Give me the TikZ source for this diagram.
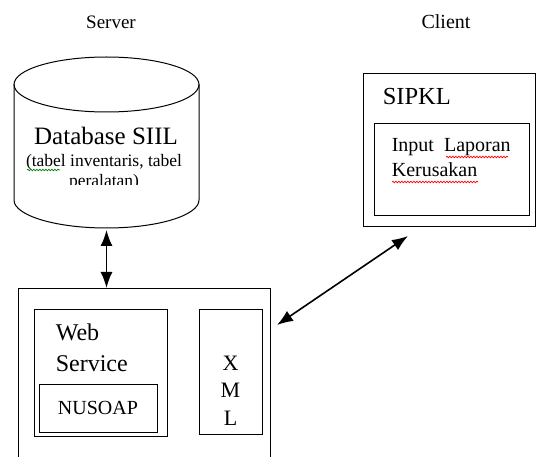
\documentclass[tikz,border=0pt]{standalone}
\usepackage{fontspec}
\setmainfont{Liberation Serif}
\usetikzlibrary{arrows.meta,decorations.pathmorphing}

\begin{document}
\begin{tikzpicture}[x=1pt,y=-1pt,line width=1pt,
  box/.style={draw,rectangle,inner sep=0pt},
  link/.style={line width=1.6pt,{Latex[length=16pt,width=12pt]}-{Latex[length=16pt,width=12pt]}},
  typo/.style={line width=0.7pt,decorate,decoration={snake,amplitude=0.8pt,segment length=3pt}}]
  \useasboundingbox (0,0) rectangle (536,457);
  % server side
  \node (srvlabel) at (111,22) {\fontsize{19}{22}\selectfont Server};
  \draw (106.5,84.5) ellipse [x radius=92.5,y radius=27.5];
  \draw (14,84.5) -- (14,200) arc [start angle=180,end angle=0,x radius=92.5,y radius=28] -- (199,84.5);
  \node (dbname) at (106,136) {\fontsize{25}{28}\selectfont Database SIIL};
  \begin{scope}
    \clip (14,150) rectangle (199,185);
    \node[align=center,font=\fontsize{17.5}{19.5}\selectfont] (dbnote) at (104,172.5) {(tabel inventaris, tabel\\peralatan)};
  \end{scope}
  \draw[typo,green!50!black] (27,170) -- (60,170);
  \coordinate (dbbase) at (106.5,230);
  \coordinate (srvtop) at (106.5,288);
  \draw[link] (dbbase) -- (srvtop);
  \draw (18,460) |- (270,289) -- (270,460);
  \node[box,minimum width=133pt,minimum height=126pt] (websvc) at (100.5,373) {};
  \node[anchor=north west,align=left,font=\fontsize{24}{31}\selectfont] (wslabel) at (52,320) {Web\\Service};
  \node[box,minimum width=118pt,minimum height=48pt,font=\fontsize{20}{22}\selectfont] (nusoap) at (98,408) {NUSOAP};
  \node[box,minimum width=63pt,minimum height=124pt] (xml) at (230.5,372) {};
  \node[align=center,font=\fontsize{22}{27.5}\selectfont] (xmllabel) at (230.5,390.5) {X\\M\\L};
  % client side
  \node (cltlabel) at (446,22) {\fontsize{20}{22}\selectfont Client};
  \node[box,minimum width=172pt,minimum height=153pt] (sipkl) at (449,150.5) {};
  \node[anchor=west,font=\fontsize{24.5}{26}\selectfont] (sipkllabel) at (379,97) {SIPKL};
  \node[box,minimum width=155pt,minimum height=92pt] (input) at (451.5,170) {};
  \node[anchor=north west,align=left,font=\fontsize{20}{24.5}\selectfont] (inputlabel) at (388,135) {Input\hspace{10pt}Laporan\\Kerusakan};
  \draw[typo,red] (446,157) -- (508,157);
  \draw[typo,red] (392,182) -- (478,182);
  \coordinate (cltend) at (408,236);
  \coordinate (srvend) at (277,325);
  \draw[link] (cltend) -- (srvend);
\end{tikzpicture}
\end{document}
